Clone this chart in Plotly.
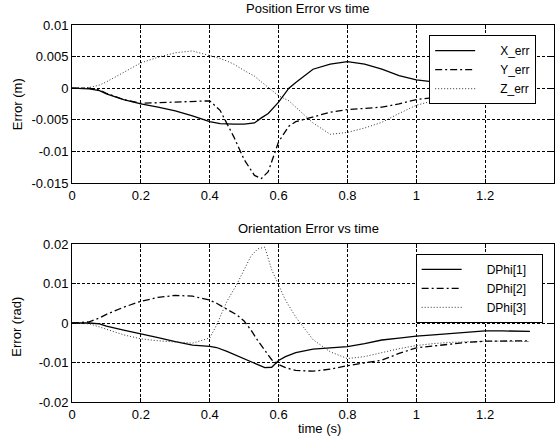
import plotly.graph_objects as go

# ---------------- data ----------------
t_pos = [0, 0.05, 0.08, 0.1, 0.15, 0.2, 0.25, 0.3, 0.35, 0.4, 0.43, 0.45, 0.47, 0.5, 0.53,
         0.55, 0.57, 0.6, 0.63, 0.65, 0.7, 0.75, 0.8, 0.85, 0.9, 0.95, 1.0, 1.05, 1.1,
         1.15, 1.2, 1.25, 1.3, 1.33]
x_err = [0, -0.0001, -0.0004, -0.0009, -0.0018, -0.0025, -0.003, -0.0036, -0.0044, -0.0053,
         -0.0056, -0.0057, -0.0057, -0.0057, -0.0055, -0.0047, -0.004, -0.0022, 0.0, 0.0009,
         0.003, 0.0038, 0.0042, 0.0038, 0.003, 0.002, 0.0013, 0.001, 0.0008, 0.0007, 0.0006,
         0.0005, 0.0005, 0.0005]
y_err = [0, 0, -0.0003, -0.0008, -0.0018, -0.0024, -0.0023, -0.0022, -0.0021, -0.002,
         -0.0035, -0.0055, -0.0077, -0.0113, -0.0138, -0.0143, -0.0132, -0.0085, -0.006,
         -0.0053, -0.0045, -0.0038, -0.0034, -0.0032, -0.003, -0.0025, -0.0018, -0.0015,
         -0.0013, -0.0012, -0.0011, -0.001, -0.001, -0.001]
z_err = [0, 0.0001, 0.0005, 0.001, 0.0025, 0.004, 0.0049, 0.0056, 0.0059, 0.0052, 0.0047,
         0.0043, 0.0038, 0.0028, 0.0019, 0.001, 0.0001, -0.0012, -0.002, -0.003, -0.0055,
         -0.0073, -0.007, -0.0063, -0.0054, -0.004, -0.0027, -0.002, -0.0015, -0.0013,
         -0.0012, -0.0011, -0.0011, -0.0011]

t_ori = [0, 0.05, 0.08, 0.1, 0.15, 0.2, 0.25, 0.3, 0.35, 0.4, 0.42, 0.45, 0.48, 0.5, 0.52,
         0.54, 0.56, 0.58, 0.6, 0.62, 0.65, 0.7, 0.75, 0.8, 0.85, 0.9, 0.95, 1.0, 1.05, 1.1,
         1.15, 1.2, 1.25, 1.3, 1.33]
dphi1 = [0, 0, -0.0002, -0.0008, -0.0018, -0.0027, -0.0037, -0.0047, -0.0056, -0.0059,
         -0.0062, -0.0072, -0.0083, -0.009, -0.0097, -0.0106, -0.0113, -0.0112, -0.0095,
         -0.0085, -0.0075, -0.0066, -0.0063, -0.006, -0.0052, -0.0043, -0.0038, -0.0033,
         -0.003, -0.0027, -0.0023, -0.002, -0.002, -0.0021, -0.0021]
dphi2 = [0, 0.0003, 0.0013, 0.0022, 0.004, 0.0055, 0.0065, 0.007, 0.0068, 0.0058, 0.005,
         0.0036, 0.002, 0.0005, -0.0018, -0.0045, -0.0068, -0.0093, -0.0105, -0.0113,
         -0.012, -0.0122, -0.0117, -0.0108, -0.0101, -0.0094, -0.0077, -0.0063, -0.0058,
         -0.0053, -0.0049, -0.0046, -0.0045, -0.0045, -0.0045]
dphi3 = [0, -0.0002, -0.001, -0.0016, -0.003, -0.004, -0.0045, -0.0048, -0.0051, -0.0038,
         -0.0005, 0.0055, 0.01, 0.0135, 0.017, 0.0188, 0.0192, 0.0135, 0.0095, 0.0058,
         0.0015, -0.0042, -0.0073, -0.009, -0.0085, -0.0075, -0.0065, -0.0057, -0.0052,
         -0.0049, -0.0047, -0.0046, -0.0046, -0.0047, -0.0047]

pos_names = ["X_err", "Y_err", "Z_err"]
ori_names = ["DPhi[1]", "DPhi[2]", "DPhi[3]"]

x_ticks = [0, 0.2, 0.4, 0.6, 0.8, 1.0, 1.2, 1.4]
x_ticklabels = ["0", "0.2", "0.4", "0.6", "0.8", "1", "1.2", "1.4"]
pos_yticks = [0.01, 0.005, 0, -0.005, -0.01, -0.015]
pos_yticklabels = ["0.01", "0.005", "0", "-0.005", "-0.01", "-0.015"]
ori_yticks = [0.02, 0.01, 0, -0.01, -0.02]
ori_yticklabels = ["0.02", "0.01", "0", "-0.01", "-0.02"]

# ---------------- figure ----------------
FONT = "Liberation Sans, Arial, sans-serif"
FS = 13
LFS = 12
NB = "\u00a0"
SOLID = dict(color="black", width=1.3, dash="solid")
DASHDOT = dict(color="black", width=1.3, dash="7px,3px,2px,3px")
DOTTED = dict(color="#333333", width=1, dash="1px,2px")
styles = [SOLID, DASHDOT, DOTTED]

fig = go.Figure()
for name, ys, st in zip(pos_names, [x_err, y_err, z_err], styles):
    fig.add_trace(go.Scatter(x=t_pos, y=ys, mode="lines", name=NB * 6 + name, line=st,
                             xaxis="x", yaxis="y", legend="legend"))
for name, ys, st in zip(ori_names, [dphi1, dphi2, dphi3], styles):
    fig.add_trace(go.Scatter(x=t_ori, y=ys, mode="lines", name=NB * 6 + name + NB * 3,
                             line=st, xaxis="x2", yaxis="y2", legend="legend2"))

axis_common = dict(
    showline=True, linecolor="black", linewidth=1, mirror="ticks",
    ticks="inside", ticklen=4, tickcolor="black", tickwidth=1,
    showgrid=True, gridcolor="black", gridwidth=1, griddash="3px,2px",
    zeroline=False, tickfont=dict(family=FONT, size=FS, color="black"),
)

legend_common = dict(xanchor="left", yanchor="top", bgcolor="white",
                     bordercolor="black", borderwidth=1, itemwidth=40,
                     font=dict(family=FONT, size=LFS, color="black"), tracegroupgap=0)

fig.update_layout(
    width=560, height=445,
    margin=dict(l=72, r=6, t=25, b=43),
    paper_bgcolor="white", plot_bgcolor="white",
    font=dict(family=FONT, size=FS, color="black"),
    xaxis=dict(domain=[0, 1], anchor="y", range=[0, 1.4], tickvals=x_ticks,
               ticktext=x_ticklabels, **axis_common),
    yaxis=dict(domain=[0.581, 1.0], anchor="x", range=[-0.015, 0.01], tickvals=pos_yticks,
               ticktext=pos_yticklabels, **axis_common),
    xaxis2=dict(domain=[0, 1], anchor="y2", range=[0, 1.4], tickvals=x_ticks,
                ticktext=x_ticklabels, **axis_common),
    yaxis2=dict(domain=[0, 0.419], anchor="x2", range=[-0.02, 0.02], tickvals=ori_yticks,
                ticktext=ori_yticklabels, **axis_common),
    legend=dict(x=0.741, y=0.973, **legend_common),
    legend2=dict(x=0.713, y=0.393, **legend_common),
    showlegend=True,
    annotations=[
        dict(text="Position Error vs time", xref="paper", yref="paper", x=0.49, y=1.045,
             xanchor="center", yanchor="middle", showarrow=False,
             font=dict(family=FONT, size=FS)),
        dict(text="Orientation Error vs time", xref="paper", yref="paper", x=0.49, y=0.4615,
             xanchor="center", yanchor="middle", showarrow=False,
             font=dict(family=FONT, size=FS)),
        dict(text="Error (m)", xref="paper", yref="paper", x=-0.114, y=0.79,
             xanchor="center", yanchor="middle", textangle=-90, showarrow=False,
             font=dict(family=FONT, size=FS)),
        dict(text="Error (rad)", xref="paper", yref="paper", x=-0.114, y=0.2,
             xanchor="center", yanchor="middle", textangle=-90, showarrow=False,
             font=dict(family=FONT, size=FS)),
        dict(text="time (s)", xref="paper", yref="paper", x=0.513, y=-0.0716,
             xanchor="center", yanchor="middle", showarrow=False,
             font=dict(family=FONT, size=FS)),
    ],
)

fig.write_html("out.html", config={"displayModeBar": False},
               post_script="document.body.style.margin='0';document.body.style.padding='0';")
